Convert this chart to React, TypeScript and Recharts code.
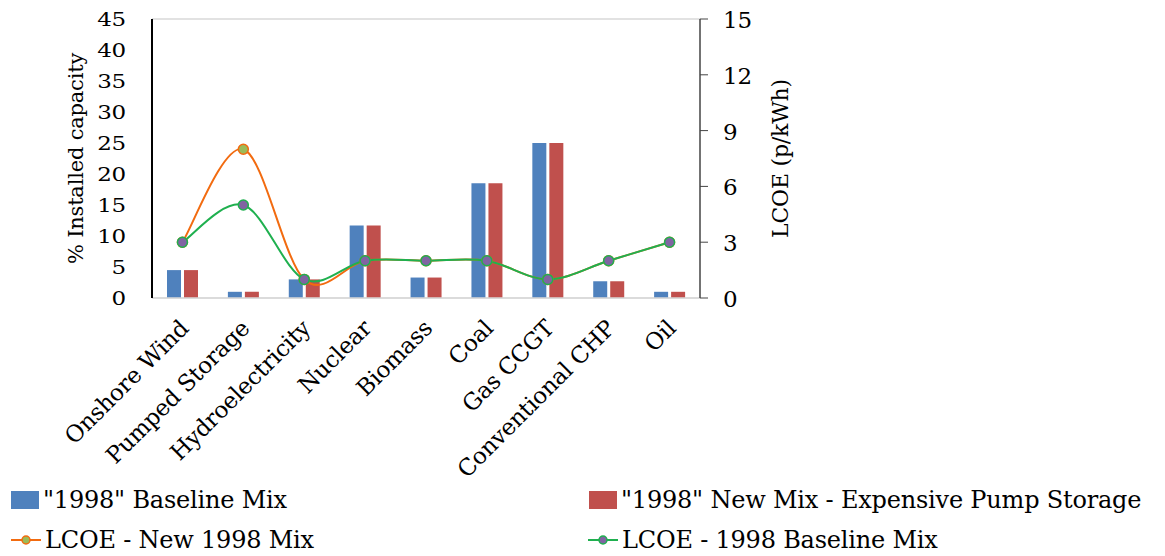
import React from 'react';
import {
  ComposedChart, Bar, Line, XAxis, YAxis, CartesianGrid,
} from 'recharts';

const categories = [
  'Onshore Wind', 'Pumped Storage', 'Hydroelectricity', 'Nuclear', 'Biomass',
  'Coal', 'Gas CCGT', 'Conventional CHP', 'Oil',
];
const baselineMix = [4.5, 1, 3, 11.7, 3.3, 18.5, 25, 2.7, 1];
const newMix = [4.5, 1, 3, 11.7, 3.3, 18.5, 25, 2.7, 1];
const lcoeNew = [3, 8, 1, 2, 2, 2, 1, 2, 3];
const lcoeBaseline = [3, 5, 1, 2, 2, 2, 1, 2, 3];
const leftTicks = [0, 5, 10, 15, 20, 25, 30, 35, 40, 45];
const rightTicks = [0, 3, 6, 9, 12, 15];

const data = categories.map((name, i) => ({
  name,
  baseline: baselineMix[i],
  newMix: newMix[i],
  lcoeNew: lcoeNew[i],
  lcoeBase: lcoeBaseline[i],
}));

const FONT = '"DejaVu Serif", serif';

// Catmull-Rom style smoothing, close to spreadsheet "smoothed line"
const smooth = (ctx: any) => {
  let pts: number[][] = [];
  return {
    areaStart() {},
    areaEnd() {},
    lineStart() { pts = []; },
    point(x: number, y: number) { pts.push([+x, +y]); },
    lineEnd() {
      if (!pts.length) return;
      ctx.moveTo(pts[0][0], pts[0][1]);
      for (let i = 0; i < pts.length - 1; i++) {
        const p0 = pts[i - 1] || pts[i];
        const p1 = pts[i];
        const p2 = pts[i + 1];
        const p3 = pts[i + 2] || p2;
        ctx.bezierCurveTo(
          p1[0] + (p2[0] - p0[0]) / 6, p1[1] + (p2[1] - p0[1]) / 6,
          p2[0] - (p3[0] - p1[0]) / 6, p2[1] - (p3[1] - p1[1]) / 6,
          p2[0], p2[1],
        );
      }
    },
  };
};

const CategoryTick = (props: any) => {
  const { x, y, payload } = props;
  return (
    <g transform={`translate(${x + 2},${y + 18})`}>
      <text
        textAnchor="end"
        transform="rotate(-45)"
        fontFamily={FONT}
        fontSize={23}
        fill="#000"
        dy={8}
      >
        {payload.value}
      </text>
    </g>
  );
};

// left axis numbers are drawn slightly squat
const LeftTick = (props: any) => {
  const { x, y, payload } = props;
  return (
    <g transform={`translate(${x},${y}) scale(1,0.8)`}>
      <text textAnchor="end" fontFamily={FONT} fontSize={23} fill="#000" dy={9}>
        {payload.value}
      </text>
    </g>
  );
};

const RightTick = (props: any) => {
  const { x, y, payload } = props;
  return (
    <text x={x} y={y} textAnchor="start" fontFamily={FONT} fontSize={23} fill="#000" dy={9}>
      {payload.value}
    </text>
  );
};

const LegendItem = ({ kind, color, fill, label, left, top }: any) => (
  <div style={{ position: 'absolute', left, top, display: 'flex', alignItems: 'center', whiteSpace: 'nowrap' }}>
    {kind === 'bar' ? (
      <svg width={32} height={20} style={{ marginRight: 2 }}>
        <rect x={2} y={1} width={28} height={18} fill={color} />
      </svg>
    ) : (
      <svg width={32} height={20} style={{ marginRight: 2 }}>
        <line x1={0} y1={10} x2={30} y2={10} stroke={color} strokeWidth={2} />
        <circle cx={15} cy={10} r={4} fill={fill} stroke={color} strokeWidth={1.5} />
      </svg>
    )}
    <span>{label}</span>
  </div>
);

export default function App() {
  return (
    <div
      style={{
        position: 'absolute', left: 0, top: 0, width: 1165, height: 556, background: '#fff',
        fontFamily: FONT, fontSize: 24, color: '#000', lineHeight: '30px', letterSpacing: -0.2,
      }}
    >
      <ComposedChart
        width={1165}
        height={556}
        data={data}
        margin={{ top: 19, right: 365, bottom: 86, left: 0 }}
        barGap={3}
        barCategoryGap="24%"
      >
        <CartesianGrid vertical={false} stroke="#d9d9d9" strokeWidth={1.5} />
        <XAxis
          dataKey="name"
          interval={0}
          tick={<CategoryTick />}
          tickLine={false}
          axisLine={{ stroke: '#d9d9d9', strokeWidth: 1.5 }}
          height={172}
        />
        <YAxis
          yAxisId="left"
          domain={[0, 45]}
          ticks={leftTicks}
          interval={0}
          width={152}
          tickLine={false}
          axisLine={{ stroke: '#000', strokeWidth: 2 }}
          tick={<LeftTick />}
          tickMargin={20}
          label={{
            value: '% Installed capacity', angle: -90, position: 'insideLeft', offset: 76,
            style: { fontFamily: FONT, fontSize: 21, fill: '#000', textAnchor: 'middle' },
          }}
        />
        <YAxis
          yAxisId="right"
          orientation="right"
          domain={[0, 15]}
          ticks={rightTicks}
          interval={0}
          width={100}
          tickLine={{ stroke: '#444' }}
          tickSize={8}
          axisLine={{ stroke: '#444', strokeWidth: 1.5 }}
          tick={<RightTick />}
          tickMargin={15}
          label={{
            value: 'LCOE (p/kWh)', angle: -90, position: 'insideLeft', offset: 80,
            style: { fontFamily: FONT, fontSize: 22, fill: '#000', textAnchor: 'middle' },
          }}
        />
        <Bar yAxisId="left" dataKey="baseline" fill="#4f81bd" barSize={14} isAnimationActive={false} />
        <Bar yAxisId="left" dataKey="newMix" fill="#c0504d" barSize={14} isAnimationActive={false} />
        <Line
          yAxisId="right"
          dataKey="lcoeNew"
          type={smooth as any}
          stroke="#f26b10"
          strokeWidth={2}
          dot={{ r: 5, fill: '#9bbb59', stroke: '#f26b10', strokeWidth: 1.5 }}
          isAnimationActive={false}
        />
        <Line
          yAxisId="right"
          dataKey="lcoeBase"
          type={smooth as any}
          stroke="#1fb04f"
          strokeWidth={2}
          dot={{ r: 5, fill: '#8064a2', stroke: '#1fb04f', strokeWidth: 1.5 }}
          isAnimationActive={false}
        />
      </ComposedChart>
      <LegendItem kind="bar" color="#4f81bd" label={'"1998" Baseline Mix'} left={9} top={485} />
      <LegendItem kind="bar" color="#c0504d" label={'"1998" New Mix - Expensive Pump Storage'} left={587} top={485} />
      <LegendItem kind="line" color="#f26b10" fill="#9bbb59" label="LCOE - New 1998 Mix" left={11} top={525} />
      <LegendItem kind="line" color="#1fb04f" fill="#8064a2" label="LCOE - 1998 Baseline Mix" left={588} top={525} />
    </div>
  );
}
